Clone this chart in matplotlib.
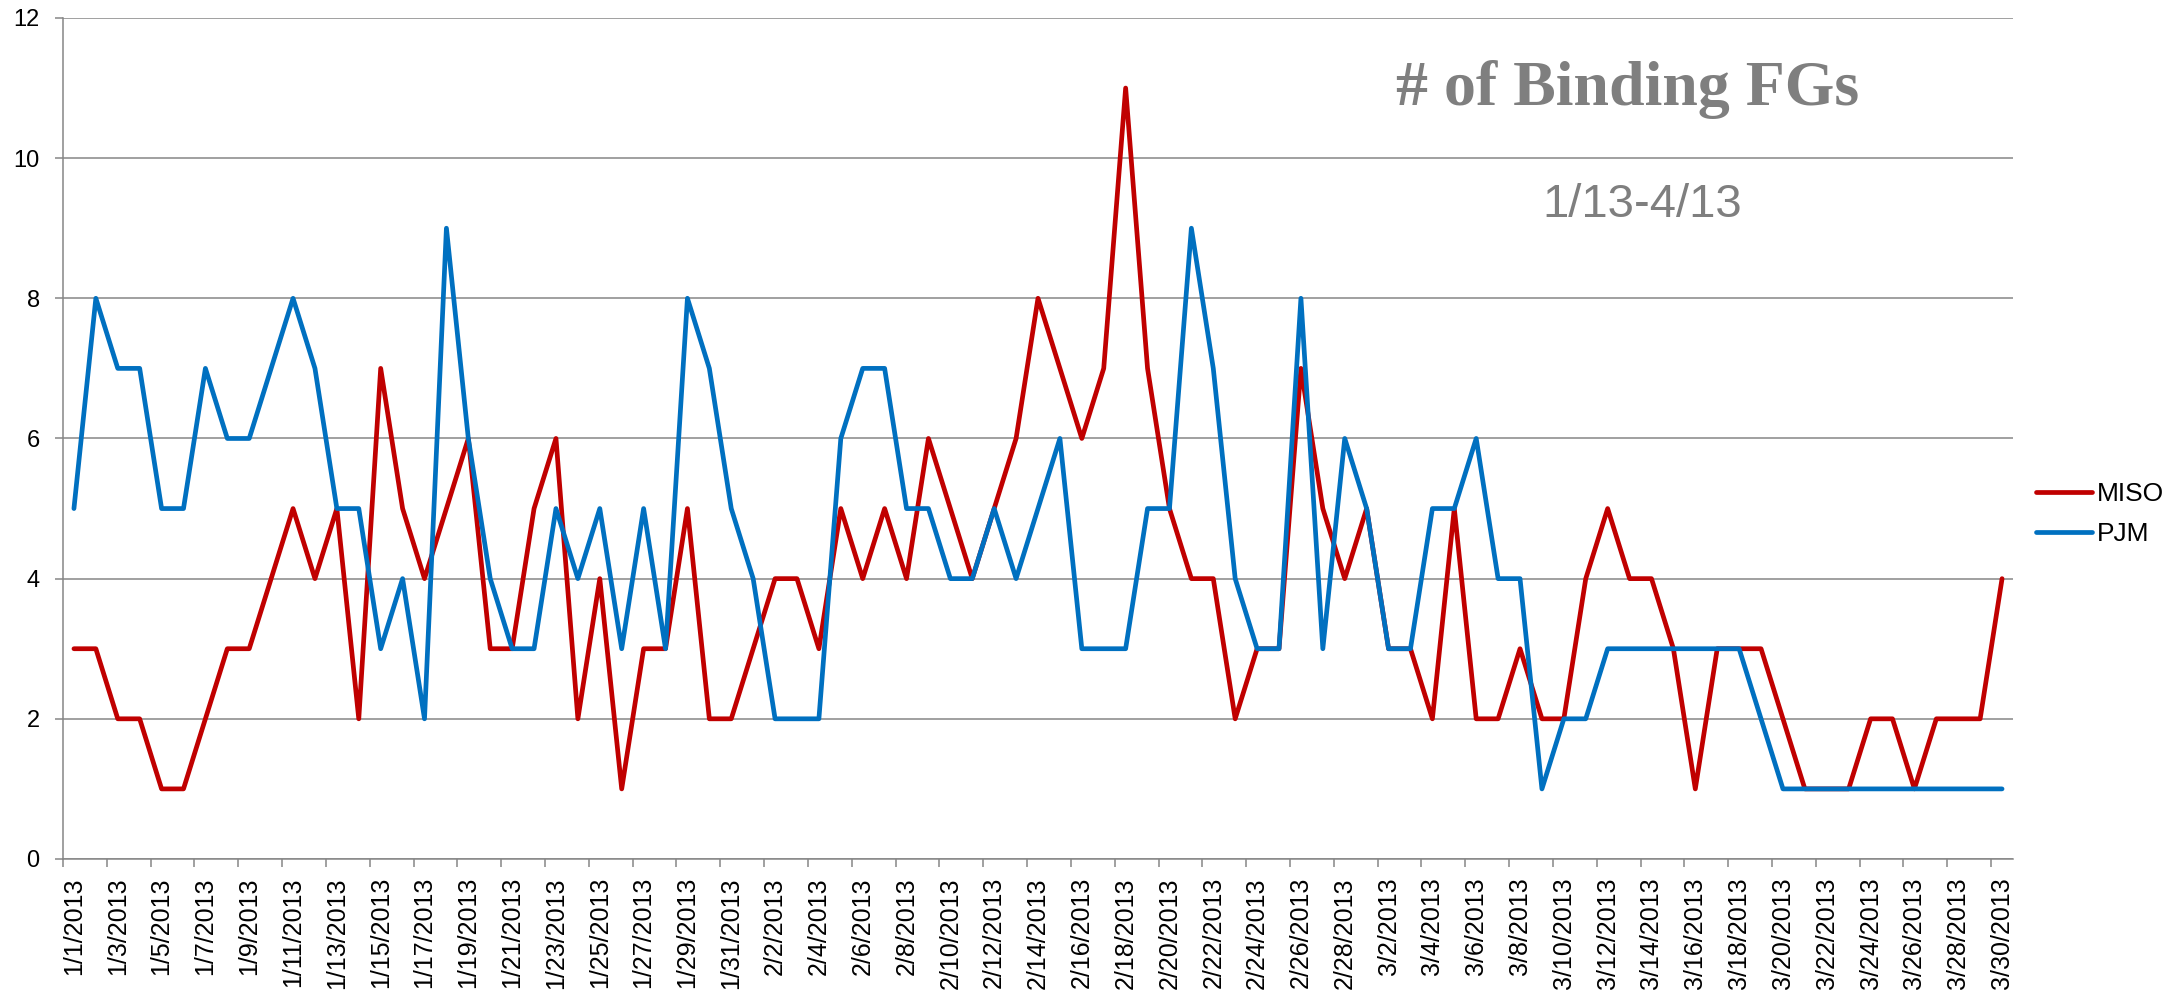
import pandas as pd
import matplotlib
matplotlib.use("Agg")
import matplotlib.pyplot as plt

# daily counts of binding FGs, 1/1/2013 .. 3/30/2013
dates = pd.date_range("2013-01-01", "2013-03-30", freq="D")
date_labels = [f"{d.month}/{d.day}/{d.year}" for d in dates]

miso = [
    # Jan
    3, 3, 2, 2, 1, 1, 2, 3, 3, 4, 5, 4, 5, 2, 7, 5, 4, 5, 6, 3, 3, 5, 6, 2, 4, 1, 3, 3, 5, 2, 2,
    # Feb
    3, 4, 4, 3, 5, 4, 5, 4, 6, 5, 4, 5, 6, 8, 7, 6, 7, 11, 7, 5, 4, 4, 2, 3, 3, 7, 5, 4,
    # Mar
    5, 3, 3, 2, 5, 2, 2, 3, 2, 2, 4, 5, 4, 4, 3, 1, 3, 3, 3, 2, 1, 1, 1, 2, 2, 1, 2, 2, 2, 4,
]
pjm = [
    # Jan
    5, 8, 7, 7, 5, 5, 7, 6, 6, 7, 8, 7, 5, 5, 3, 4, 2, 9, 6, 4, 3, 3, 5, 4, 5, 3, 5, 3, 8, 7, 5,
    # Feb
    4, 2, 2, 2, 6, 7, 7, 5, 5, 4, 4, 5, 4, 5, 6, 3, 3, 3, 5, 5, 9, 7, 4, 3, 3, 8, 3, 6,
    # Mar
    5, 3, 3, 5, 5, 6, 4, 4, 1, 2, 2, 3, 3, 3, 3, 3, 3, 3, 2, 1, 1, 1, 1, 1, 1, 1, 1, 1, 1, 1,
]

y_ticks = [0, 2, 4, 6, 8, 10, 12]

RED = "#C00000"
BLUE = "#0070C0"
GRID = "#868686"
TXT = "#7F7F7F"

plt.rcParams["font.family"] = ["Liberation Sans", "DejaVu Sans"]

fig = plt.figure(figsize=(21.72, 9.98), dpi=100)
ax = fig.add_axes([0.0290, 0.1393, 0.8978, 0.8427])

x = list(range(len(dates)))
line_kw = dict(lw=3.4, solid_joinstyle="round", solid_capstyle="round")
ax.plot(x, miso, color=RED, label="MISO", zorder=3, **line_kw)
ax.plot(x, pjm, color=BLUE, label="PJM", zorder=3, **line_kw)

ax.set_xlim(-0.5, len(dates) - 0.5)
ax.set_ylim(0, 12)

# labels on every other category, tick marks on the category boundaries
ax.set_xticks(x[::2])
ax.set_xticklabels(date_labels[::2], rotation=90, fontsize=18)
ax.set_xticks([i - 0.5 for i in x[::2]], minor=True)
ax.tick_params(axis="x", which="major", length=0, pad=13)
ax.tick_params(axis="x", which="minor", length=5.8, width=1.1, color=GRID)

ax.set_yticks(y_ticks)
ax.tick_params(axis="y", length=5.8, width=1.1, color=GRID, labelsize=17, pad=11)

ax.grid(axis="y", color=GRID, lw=1.1, zorder=1)
for side in ("top", "right"):
    ax.spines[side].set_visible(False)
for side in ("left", "bottom"):
    ax.spines[side].set_color(GRID)
    ax.spines[side].set_linewidth(1.1)

ax.legend(loc="center left", bbox_to_anchor=(0.9314, 0.485),
          bbox_transform=fig.transFigure, frameon=False, fontsize=19,
          handlelength=2.1, handletextpad=0.2, labelspacing=0.6, borderpad=0)

fig.text(0.7493, 0.8948, "# of Binding FGs", ha="center", va="baseline",
         fontsize=46, fontweight="bold", color=TXT,
         family=["Liberation Serif", "DejaVu Serif"])
fig.text(0.756, 0.7826, "1/13-4/13", ha="center", va="baseline",
         fontsize=34, color=TXT)

fig.savefig("out.png", dpi=100)
plt.close(fig)
